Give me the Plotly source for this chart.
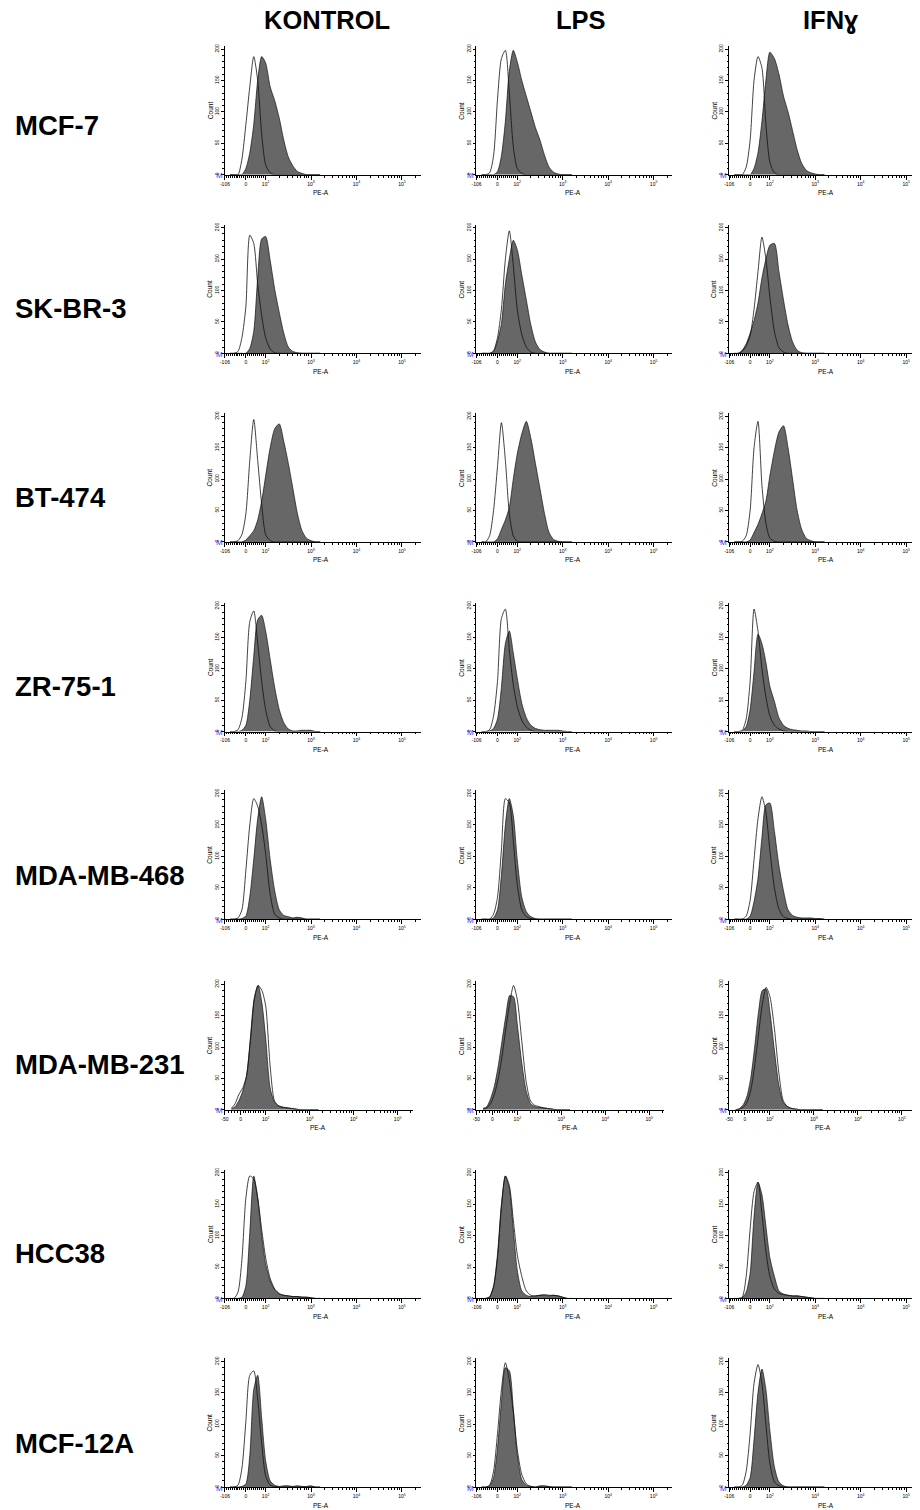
import numpy as np
import plotly.graph_objects as go

W, H = 920, 1510
OFF = 8  # page body margin of the browser, compensated in pixel placement

# Histogram bin positions on the display (biexponential) scale, in decades
BIN_POS = [1.218, 1.305, 1.392, 1.479, 1.566, 1.652, 1.739, 1.826, 1.913, 2.0,
           2.1, 2.2, 2.3, 2.4, 2.5, 2.6, 2.7, 2.8, 2.9, 3.0, 3.1, 3.2]

ROW_NAMES = ["MCF-7", "SK-BR-3", "BT-474", "ZR-75-1", "MDA-MB-468", "MDA-MB-231", "HCC38", "MCF-12A"]
COL_NAMES = ["KONTROL", "LPS", "IFNɣ"]

# counts: open = unstained/isotype (outline), fill = stained (grey)
MCF7_K_open = [0,0,0,25,80,140,188,150,65,16,3,0,0,0,0,0,0,0,0,0,0,0]
MCF7_K_fill = [0,0,0,0,10,35,80,150,188,178,140,118,90,55,28,14,5,2,0,0,0,0]
MCF7_L_open = [0,0,3,30,120,185,198,130,45,10,2,0,0,0,0,0,0,0,0,0,0,0]
MCF7_L_fill = [0,0,0,0,5,30,85,165,198,180,150,125,100,75,55,31,12,4,1,0,0,0]
MCF7_I_open = [0,0,0,12,55,150,188,170,80,20,3,0,0,0,0,0,0,0,0,0,0,0]
MCF7_I_fill = [0,0,0,0,0,10,35,85,150,195,185,160,125,100,70,40,18,7,3,1,0,0]

SKBR3_K_open = [0,0,3,25,75,188,175,110,60,25,7,1,0,0,0,0,0,0,0,0,0,0]
SKBR3_K_fill = [0,0,0,0,0,8,35,120,182,186,148,102,65,32,10,3,1,0,0,0,0,0]
SKBR3_L_open = [0,0,0,4,25,70,150,195,140,70,30,10,2,0,0,0,0,0,0,0,0,0]
SKBR3_L_fill = [0,0,0,3,20,47,110,150,180,165,125,85,45,18,6,2,0,0,0,0,0,0]
SKBR3_I_open = [0,0,3,12,28,70,130,185,150,90,35,9,2,0,0,0,0,0,0,0,0,0]
SKBR3_I_fill = [0,0,5,15,32,52,80,120,150,172,175,130,85,45,18,5,1,0,0,0,0,0]

BT474_K_open = [0,0,2,12,45,130,195,130,60,12,2,0,0,0,0,0,0,0,0,0,0,0]
BT474_K_fill = [0,0,0,0,3,10,18,35,65,105,150,180,188,160,125,85,45,18,6,2,0,0]
BT474_L_open = [0,0,10,50,120,190,130,45,10,1,0,0,0,0,0,0,0,0,0,0,0,0]
BT474_L_fill = [0,0,0,0,5,20,35,55,100,140,172,192,165,125,85,45,15,4,1,0,0,0]
BT474_I_open = [0,0,1,10,50,150,192,90,30,6,1,0,0,0,0,0,0,0,0,0,0,0]
BT474_I_fill = [0,0,0,0,3,15,28,45,65,105,145,175,185,150,100,50,20,6,2,0,0,0]

ZR751_K_open = [0,0,3,22,80,175,192,140,80,35,8,1,0,0,0,0,0,0,0,0,0,0]
ZR751_K_fill = [0,0,0,2,10,50,120,178,185,160,115,70,35,14,4,1,1,2,2,2,0,0]
ZR751_L_open = [0,0,3,25,80,180,195,130,75,40,18,7,2,0,0,0,0,0,0,0,0,0]
ZR751_L_fill = [0,0,1,5,20,70,140,160,125,85,45,22,10,5,3,2,2,2,2,1,0,0]
ZR751_I_open = [0,0,2,20,80,195,160,100,55,25,10,4,1,0,0,0,0,0,0,0,0,0]
ZR751_I_fill = [0,0,1,8,35,95,155,140,110,72,48,22,10,5,3,2,1,1,0,0,0,0]

MDA468_K_open = [0,0,2,15,78,150,192,180,150,105,40,8,2,0,0,0,0,0,0,0,0,0]
MDA468_K_fill = [0,0,0,1,5,36,95,160,195,160,95,45,15,6,4,2,3,2,0,0,0,0]
MDA468_L_open = [0,0,0,8,35,110,192,185,125,55,15,4,1,0,0,0,0,0,0,0,0,0]
MDA468_L_fill = [0,0,0,2,15,70,150,192,165,95,35,12,4,1,0,0,0,0,0,0,0,0]
MDA468_I_open = [0,0,0,5,30,95,160,195,170,110,50,16,4,1,0,0,0,0,0,0,0,0]
MDA468_I_fill = [0,0,0,0,5,28,65,130,182,185,140,85,45,15,6,3,2,2,2,1,1,0]

MDA231_K_open = [2,10,25,35,55,110,175,198,190,165,70,14,6,4,3,2,1,0,0,0,0,0]
MDA231_K_fill = [1,5,15,30,55,115,178,198,170,113,35,12,6,4,3,2,1,0,0,0,0,0]
MDA231_L_open = [1,3,10,25,50,85,130,170,198,175,110,45,14,7,5,3,2,1,0,0,0,0]
MDA231_L_fill = [2,5,18,38,70,110,150,182,180,135,75,30,10,5,4,3,2,1,0,0,0,0]
MDA231_I_open = [0,1,4,12,32,70,120,168,195,180,130,60,15,5,2,1,0,0,0,0,0,0]
MDA231_I_fill = [0,2,8,22,52,100,155,190,192,155,95,40,12,5,2,1,0,0,0,0,0,0]

HCC38_K_open = [0,0,10,62,160,195,190,160,110,65,32,15,8,5,4,3,3,2,2,1,0,0]
HCC38_K_fill = [0,0,0,2,20,105,195,160,100,55,28,14,7,5,4,3,3,2,2,1,0,0]
HCC38_L_open = [0,0,2,18,65,145,195,180,125,70,35,12,5,4,5,6,5,5,4,2,0,0]
HCC38_L_fill = [0,0,3,20,70,150,195,175,110,45,12,5,3,4,5,5,4,5,4,2,0,0]
HCC38_I_open = [0,0,2,35,110,170,185,135,75,35,15,8,6,5,4,4,3,2,1,0,0,0]
HCC38_I_fill = [0,0,1,10,40,130,185,165,115,65,35,12,7,5,4,4,3,2,1,0,0,0]

MCF12A_K_open = [0,0,3,30,105,178,185,140,70,18,3,1,0,0,0,0,0,0,0,0,0,0]
MCF12A_K_fill = [0,0,0,1,5,50,155,178,110,42,10,3,1,2,2,1,2,1,1,2,0,0]
MCF12A_L_open = [0,0,3,25,85,155,198,170,120,60,20,5,1,0,0,0,0,0,0,0,0,0]
MCF12A_L_fill = [0,0,2,15,62,135,190,185,125,52,12,3,1,0,2,2,1,0,0,0,0,0]
MCF12A_I_open = [0,0,3,25,85,165,195,165,100,38,8,2,0,0,0,0,0,0,0,0,0,0]
MCF12A_I_fill = [0,0,0,3,15,75,150,188,155,90,32,8,2,0,0,0,0,0,0,0,0,0]

PANELS = [
    [(MCF7_K_open, MCF7_K_fill), (MCF7_L_open, MCF7_L_fill), (MCF7_I_open, MCF7_I_fill)],
    [(SKBR3_K_open, SKBR3_K_fill), (SKBR3_L_open, SKBR3_L_fill), (SKBR3_I_open, SKBR3_I_fill)],
    [(BT474_K_open, BT474_K_fill), (BT474_L_open, BT474_L_fill), (BT474_I_open, BT474_I_fill)],
    [(ZR751_K_open, ZR751_K_fill), (ZR751_L_open, ZR751_L_fill), (ZR751_I_open, ZR751_I_fill)],
    [(MDA468_K_open, MDA468_K_fill), (MDA468_L_open, MDA468_L_fill), (MDA468_I_open, MDA468_I_fill)],
    [(MDA231_K_open, MDA231_K_fill), (MDA231_L_open, MDA231_L_fill), (MDA231_I_open, MDA231_I_fill)],
    [(HCC38_K_open, HCC38_K_fill), (HCC38_L_open, HCC38_L_fill), (HCC38_I_open, HCC38_I_fill)],
    [(MCF12A_K_open, MCF12A_K_fill), (MCF12A_L_open, MCF12A_L_fill), (MCF12A_I_open, MCF12A_I_fill)],
]

# x-axis tick labels (two scale variants)
TICK_STD = [(-106, "-106"), (0, "0"), (100, "10<sup>2</sup>"), (1000, "10<sup>3</sup>"),
            (10000, "10<sup>4</sup>"), (100000, "10<sup>5</sup>")]
TICK_231 = [(-50, "-50"), (0, "0"), (100, "10<sup>2</sup>"), (1000, "10<sup>3</sup>"),
            (10000, "10<sup>4</sup>"), (100000, "10<sup>5</sup>")]
Y_TICKS = [0, 50, 100, 150, 200]

# layout geometry (screen pixels)
ROW_BASE = [173, 352, 541, 731, 919, 1110, 1299, 1488]
ROW_LABEL_Y = [124, 307, 496, 686, 875, 1065, 1254, 1444]
COL_LEFT = [221, 474, 728]
COL_HEAD_X = [324, 579, 830]
PANEL_H = 129
YMAX = 205


def px(sx):
    return (sx - OFF) / W


def py(sy):
    return 1 - (sy - OFF) / H


def scale_std(v):
    v = float(v)
    if v >= 100:
        return float(np.log10(v))
    return 2 - np.log10(np.e) + v / (100 * np.log(10))


def scale_231(v):
    v = float(v)
    if v >= 100:
        return float(np.log10(v))
    return float(np.interp(v, [-50, 0, 100], [1.07, 1.43, 2.0]))


def minor_positions(fn, dmin):
    vals = [fn(v) for v in range(-100, 100, 10)]
    vals = [float(x) for x in vals if x >= dmin]
    for k in range(2, 6):
        for m in range(2, 10):
            vals.append(float(np.log10(m * 10 ** k)))
    return vals


fig = go.Figure()
annotations = []
layout = {}
RIGHT_LIMIT = W + OFF  # last visible screen pixel

for r in range(8):
    if r == 5:
        d_left, ppd, full_w = 1.07, 44.2, 189
        ticks, fn, pe_shift = TICK_231, scale_231, 94
    else:
        d_left, ppd, full_w = 1.103, 45.7, 197
        ticks, fn, pe_shift = TICK_STD, scale_std, 97
    tickpos = [max(fn(v), d_left) for v, _ in ticks]
    minors = minor_positions(fn, d_left)
    base = ROW_BASE[r]
    for c in range(3):
        i = r * 3 + c + 1
        xs = "" if i == 1 else str(i)
        left = COL_LEFT[c]
        right = min(left + full_w, W)
        width = right - left
        xr = [d_left, d_left + width / ppd]
        layout["xaxis" + xs] = dict(
            domain=[px(left), px(right)], range=xr, anchor="y" + xs,
            tickmode="array", tickvals=tickpos, ticktext=[t for _, t in ticks],
            ticks="outside", ticklen=4, tickwidth=0.8, tickcolor="black",
            showline=True, linecolor="black", linewidth=0.8,
            showgrid=False, zeroline=False, fixedrange=True,
            tickfont=dict(family="Arial, Liberation Sans", size=5, color="black"),
            minor=dict(tickmode="array", tickvals=minors, ticks="outside",
                       ticklen=2, tickwidth=0.6, tickcolor="black", showgrid=False),
        )
        layout["yaxis" + xs] = dict(
            domain=[py(base), py(base - PANEL_H)], range=[0, YMAX],
            anchor="x" + xs, tickmode="array", tickvals=Y_TICKS,
            ticktext=[str(t) for t in Y_TICKS], tickangle=-90,
            ticks="outside", ticklen=3, tickwidth=0.8, tickcolor="black",
            showline=True, linecolor="black", linewidth=0.8,
            showgrid=False, zeroline=False, fixedrange=True,
            tickfont=dict(family="Arial, Liberation Sans", size=5, color="black"),
            minor=dict(dtick=10, ticks="outside", ticklen=1.5, tickwidth=0.6,
                       tickcolor="black", showgrid=False),
        )
        open_y, fill_y = PANELS[r][c]
        fig.add_trace(go.Scatter(
            x=BIN_POS, y=fill_y, mode="lines", xaxis="x" + xs, yaxis="y" + xs,
            line=dict(color="#111111", width=0.7, shape="spline", smoothing=0.7),
            fill="tozeroy", fillcolor="#676767", hoverinfo="skip", showlegend=False))
        fig.add_trace(go.Scatter(
            x=BIN_POS, y=open_y, mode="lines", xaxis="x" + xs, yaxis="y" + xs,
            line=dict(color="#111111", width=0.8, shape="spline", smoothing=0.7),
            hoverinfo="skip", showlegend=False))
        # gate marker "M"
        annotations.append(dict(text="M", xref="x" + xs + " domain", yref="y" + xs,
                                x=0, y=0, xanchor="right", yanchor="middle", xshift=0, yshift=-1,
                                showarrow=False, font=dict(family="Arial", size=8, color="#3a3aff")))
        annotations.append(dict(text="Count", xref="x" + xs + " domain", yref="y" + xs + " domain",
                                x=0, y=0.5, xanchor="center", yanchor="middle", xshift=-15,
                                textangle=-90, showarrow=False,
                                font=dict(family="Arial", size=6.5, color="black")))
        annotations.append(dict(text="PE-A", xref="x" + xs + " domain", yref="y" + xs + " domain",
                                x=pe_shift / width, y=0, xanchor="center", yanchor="middle", yshift=-18,
                                showarrow=False, font=dict(family="Arial", size=6.5, color="black")))

for c, name in enumerate(COL_NAMES):
    annotations.append(dict(text="<b>" + name + "</b>", xref="paper", yref="paper",
                            x=px(COL_HEAD_X[c]), y=py(18), xanchor="center", yanchor="middle",
                            showarrow=False, font=dict(family="Liberation Sans, Arial", size=25.5, color="black")))
for r, name in enumerate(ROW_NAMES):
    annotations.append(dict(text="<b>" + name + "</b>", xref="paper", yref="paper",
                            x=0, y=py(ROW_LABEL_Y[r]), xanchor="left", yanchor="middle",
                            showarrow=False, font=dict(family="Liberation Sans, Arial", size=27.5, color="black")))

fig.update_layout(
    width=W, height=H, autosize=False,
    margin=dict(l=0, r=0, t=0, b=0, pad=0),
    paper_bgcolor="white", plot_bgcolor="white",
    showlegend=False, hovermode=False,
    annotations=annotations, **layout,
)

fig.write_html("out.html", config={"displayModeBar": False})
